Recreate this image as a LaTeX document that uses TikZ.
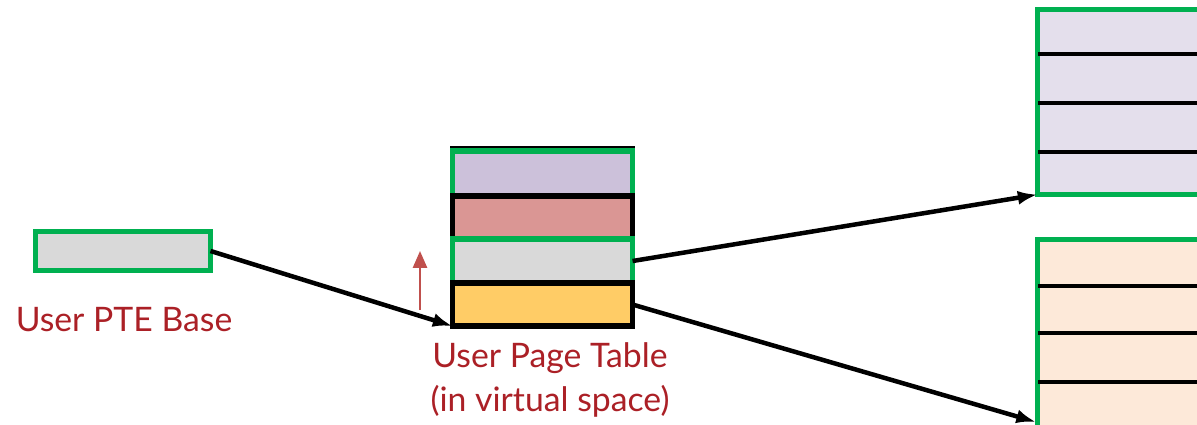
\documentclass[tikz,border=0pt]{standalone}
\usepackage{fontspec}
\setmainfont{Lato}
\usetikzlibrary{positioning,arrows.meta}
\definecolor{ptgreen}{RGB}{0,176,80}
\definecolor{ptred}{RGB}{171,32,38}
\definecolor{uparrow}{RGB}{192,80,77}
\definecolor{ptegray}{RGB}{217,217,217}
\definecolor{lilac}{RGB}{204,193,218}
\definecolor{rose}{RGB}{218,150,148}
\definecolor{gold}{RGB}{255,204,102}
\definecolor{lilaclight}{RGB}{228,223,236}
\definecolor{peach}{RGB}{253,233,217}
\begin{document}
\begin{tikzpicture}[x=0.025cm,y=-0.025cm,
    entry/.style={draw=ptgreen,line width=4pt,inner sep=0pt,outer sep=0pt,minimum width=4.5cm},
    plain/.style={entry,draw=black},
    bigtable/.style={draw=ptgreen,line width=4pt,inner sep=0pt,outer sep=0pt,minimum width=6cm,anchor=north west},
    rowline/.style={line width=3.2pt},
    link/.style={line width=3.2pt,-{Latex[length=14pt,width=10pt]}},
    redtext/.style={text=ptred,font=\fontsize{24}{31}\selectfont}]
  \useasboundingbox (0,0) rectangle (1197,425);
  \clip (0,0) rectangle (1197,425);
  % user pte base register
  \node[entry,fill=ptegray,minimum width=4.375cm,minimum height=0.975cm] (ptebase) at (123,251) {};
  \node[redtext] (ptelabel) at (124,320) {User PTE Base};
  % user page table in virtual space
  \draw[line width=4pt] (452.5,149) rectangle (632.5,326);
  \node[entry,fill=lilac,minimum height=1.125cm,anchor=north west] (r1) at (452.5,151) {};
  \node[plain,fill=rose,minimum height=1.075cm,below=0pt of r1] (r2) {};
  \node[entry,fill=ptegray,minimum height=1.1cm,below=0pt of r2] (r3) {};
  \node[plain,fill=gold,minimum height=1.075cm,below=0pt of r3] (r4) {};
  \node[redtext,align=center] (ptlabel) at (550,380) {User Page Table\\(in virtual space)};
  \coordinate (grow0) at (420,310);
  \coordinate (grow1) at (420,251);
  \draw[uparrow,line width=1.6pt,-{Triangle[length=12pt,width=10pt]}] (grow0) -- (grow1);
  % pages the entries point to
  \node[bigtable,fill=lilaclight,minimum height=4.625cm] (pttop) at (1037.5,9.5) {};
  \foreach \y in {54,103,152}
    \draw[rowline] (1038,\y) -- (1197,\y);
  \node[bigtable,fill=peach,minimum height=8cm] (ptbot) at (1037.5,239.5) {};
  \foreach \y in {286,333,382}
    \draw[rowline] (1038,\y) -- (1197,\y);
  \coordinate (botin) at (1036,422);
  % pointers
  \draw[link] (ptebase.east) -- (r4.south west);
  \draw[link] (r3.east) -- (pttop.south west);
  \draw[link] (r4.east) -- (botin);
\end{tikzpicture}
\end{document}
